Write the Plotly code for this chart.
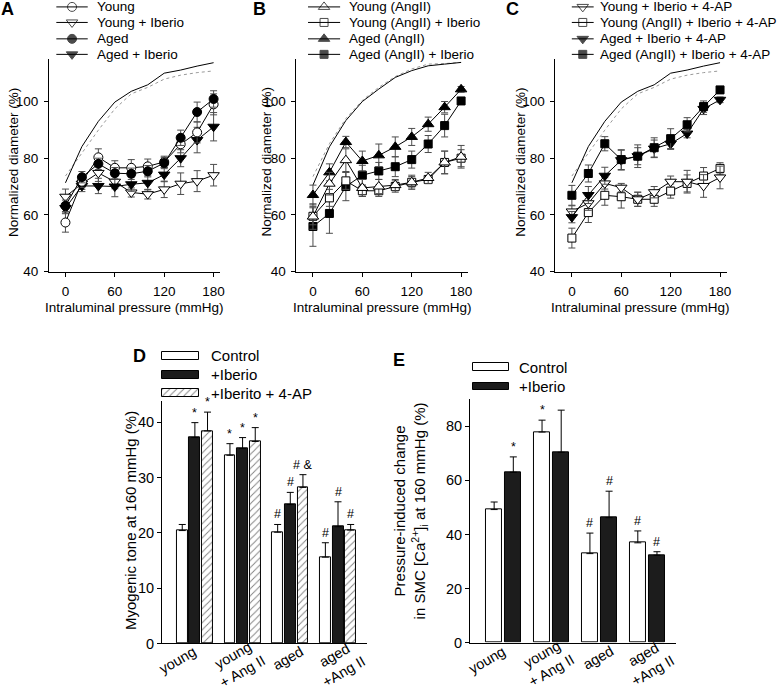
import plotly.graph_objects as go

W, H = 781, 694
FONT = "Liberation Sans, Arial, sans-serif"

# ---------------- data ----------------
pressure = [0, 20, 40, 60, 80, 100, 120, 140, 160, 180]

# Panel A
passive_solid_A = [71.3, 84.1, 93.0, 99.8, 103.6, 105.9, 110.0, 111.1, 112.5, 113.7]
passive_dot_A = [73.7, 81.8, 89.9, 97.4, 102.7, 105.0, 107.9, 109.3, 110.2, 110.8]
young = [57.3, 71.7, 80.3, 76.6, 76.6, 77.1, 78.7, 84.9, 89.1, 99.0]
young_err = [3.4, 2.0, 3.0, 2.5, 2.9, 2.6, 2.0, 3.0, 3.7, 3.7]
young_ib = [66.4, 71.0, 74.8, 71.7, 67.9, 67.3, 69.0, 71.0, 71.9, 74.0]
young_ib_err = [2.7, 2.0, 3.0, 2.5, 1.6, 1.7, 2.9, 3.8, 3.7, 3.8]
aged = [63.2, 73.3, 78.0, 74.7, 74.5, 75.4, 78.3, 87.2, 96.3, 100.9]
aged_err = [2.0, 2.0, 2.0, 2.0, 2.0, 2.0, 2.0, 2.7, 3.5, 2.9]
aged_ib = [62.4, 70.2, 70.2, 70.0, 70.8, 71.3, 74.2, 80.0, 86.4, 91.1]
aged_ib_err = [2.0, 2.0, 2.7, 3.6, 2.5, 2.5, 2.5, 3.0, 4.5, 5.0]

# Panel B
passive_solid_B = [70.5, 84.0, 93.3, 100.0, 104.4, 108.5, 110.9, 112.6, 113.2, 113.8]
passive_dot_B = [73.5, 85.1, 94.0, 100.4, 105.0, 108.8, 111.5, 113.2, 113.4, 113.8]
young_ang = [59.4, 71.0, 79.3, 69.5, 70.0, 70.5, 71.5, 73.0, 78.5, 80.5]
young_ang_err = [4.5, 4.0, 4.0, 3.0, 2.5, 2.0, 2.5, 2.0, 4.0, 4.0]
young_ang_ib = [59.5, 66.0, 72.0, 68.5, 68.5, 70.0, 71.5, 72.5, 78.5, 80.0]
young_ang_ib_err = [3.0, 3.0, 3.0, 2.0, 2.0, 2.0, 2.0, 1.0, 4.0, 3.0]
aged_ang = [67.0, 75.0, 85.7, 79.0, 81.0, 84.0, 87.5, 92.0, 98.0, 104.3]
aged_ang_err = [3.5, 3.0, 2.0, 3.5, 4.0, 3.5, 3.0, 2.5, 2.0, 1.0]
aged_ang_ib = [55.9, 60.5, 70.0, 74.0, 75.5, 77.0, 79.5, 85.0, 91.5, 100.2]
aged_ang_ib_err = [7.0, 7.0, 5.0, 3.5, 3.0, 3.5, 3.0, 3.0, 4.0, 1.0]

# Panel C
passive_solid_C = [71.3, 84.1, 93.0, 99.8, 103.6, 105.9, 110.0, 111.1, 112.5, 113.7]
passive_dot_C = [73.7, 81.8, 89.9, 97.4, 102.7, 105.0, 107.9, 109.3, 110.2, 110.8]
young_ib_4ap = [61.2, 64.1, 71.1, 69.6, 65.5, 68.0, 71.7, 71.7, 70.2, 73.2]
young_ib_4ap_err = [2.0, 2.5, 2.0, 1.5, 2.5, 2.0, 2.0, 4.0, 4.0, 4.0]
young_ang_ib_4ap = [51.8, 60.8, 66.9, 66.4, 65.5, 65.5, 68.4, 71.1, 73.7, 76.4]
young_ang_ib_4ap_err = [3.5, 3.5, 3.5, 4.0, 2.5, 2.5, 2.5, 3.0, 3.0, 2.0]
aged_ib_4ap = [59.2, 67.0, 73.8, 79.3, 80.7, 83.4, 85.1, 88.7, 97.4, 100.6]
aged_ib_4ap_err = [2.0, 3.0, 3.0, 3.5, 3.0, 3.0, 2.0, 1.5, 2.0, 1.0]
aged_ang_ib_4ap = [66.9, 74.6, 85.1, 79.5, 80.7, 83.7, 86.9, 91.8, 98.2, 104.1]
aged_ang_ib_4ap_err = [3.5, 3.0, 2.5, 3.5, 4.0, 3.5, 3.5, 2.5, 2.0, 1.0]

# Panel D
groups = ["young", "young<br>+ Ang II", "aged", "aged<br>+Ang II"]
tone_ctrl = [20.4, 34.0, 20.1, 15.6]
tone_ctrl_err = [1.1, 2.1, 1.4, 2.6]
tone_ib = [37.2, 35.2, 25.1, 21.1]
tone_ib_err = [2.7, 2.0, 2.2, 4.5]
tone_4ap = [38.4, 36.5, 28.2, 20.5]
tone_4ap_err = [3.4, 2.5, 2.3, 1.0]
tone_ctrl_sig = ["", "*", "#", "#"]
tone_ib_sig = ["*", "*", "#", "#"]
tone_4ap_sig = ["*", "*", "# &", "#"]

# Panel E
ca_ctrl = [49.2, 77.9, 32.9, 36.9]
ca_ctrl_err = [2.8, 4.4, 7.6, 4.4]
ca_ib = [63.0, 70.4, 46.2, 32.3]
ca_ib_err = [5.7, 15.6, 9.8, 1.3]
ca_ctrl_sig = ["", "*", "#", "#"]
ca_ib_sig = ["*", "", "#", "#"]

# ---------------- helpers ----------------
def dx(l, r):
    return [l / W, r / W]

def dy(t, b):
    return [1 - b / H, 1 - t / H]

fig = go.Figure()

ERRC = "#4d4d4d"

def series(xa, ya, yv, err, symbol, fill, size):
    fig.add_trace(go.Scatter(
        x=pressure, y=yv, xaxis=xa, yaxis=ya, mode="lines+markers",
        line=dict(color="black", width=1),
        marker=dict(symbol=symbol, size=size, color=fill,
                    line=dict(color="black", width=1)),
        error_y=dict(type="data", array=err, color=ERRC, thickness=1, width=3.5),
        showlegend=False, hoverinfo="skip"))

def passive(xa, ya, solid, dot):
    fig.add_trace(go.Scatter(x=pressure, y=dot, xaxis=xa, yaxis=ya, mode="lines",
                             line=dict(color="#999999", width=1, dash="dot"),
                             showlegend=False, hoverinfo="skip"))
    fig.add_trace(go.Scatter(x=pressure, y=solid, xaxis=xa, yaxis=ya, mode="lines",
                             line=dict(color="black", width=1),
                             showlegend=False, hoverinfo="skip"))

# Panel A
passive("x", "y", passive_solid_A, passive_dot_A)
series("x", "y", young_ib, young_ib_err, "triangle-down", "white", 10)
series("x", "y", aged_ib, aged_ib_err, "triangle-down", "black", 10)
series("x", "y", young, young_err, "circle", "white", 9)
series("x", "y", aged, aged_err, "circle", "black", 9)

# Panel B
passive("x2", "y2", passive_solid_B, passive_dot_B)
series("x2", "y2", aged_ang_ib, aged_ang_ib_err, "square", "black", 8)
series("x2", "y2", aged_ang, aged_ang_err, "triangle-up", "black", 10)
series("x2", "y2", young_ang_ib, young_ang_ib_err, "square", "white", 8)
series("x2", "y2", young_ang, young_ang_err, "triangle-up", "white", 10)

# Panel C
passive("x3", "y3", passive_solid_C, passive_dot_C)
series("x3", "y3", young_ang_ib_4ap, young_ang_ib_4ap_err, "square", "white", 8)
series("x3", "y3", young_ib_4ap, young_ib_4ap_err, "triangle-down", "white", 10)
series("x3", "y3", aged_ib_4ap, aged_ib_4ap_err, "triangle-down", "black", 10)
series("x3", "y3", aged_ang_ib_4ap, aged_ang_ib_4ap_err, "square", "black", 8)

annotations = []

def bars(xa, ya, vals, err, offset, width, fill, pattern, sig):
    xs = [i + offset for i in range(len(vals))]
    fig.add_trace(go.Bar(
        x=xs, y=vals, width=[width] * len(vals), xaxis=xa, yaxis=ya,
        marker=dict(color=fill, line=dict(color="black", width=1), pattern=pattern),
        error_y=dict(type="data", symmetric=False, array=err, arrayminus=[0] * len(vals),
                     color="black", thickness=1, width=3.5),
        showlegend=False, hoverinfo="skip"))
    for xv, v, e, s in zip(xs, vals, err, sig):
        if s:
            annotations.append(dict(x=xv, y=v + e, xref=xa, yref=ya, text=s,
                                    showarrow=False, yanchor="bottom", yshift=1,
                                    font=dict(family=FONT, size=12.5, color="black")))

hatch = dict(shape="/", fgcolor="black", bgcolor="white", size=5, solidity=0.18)
bars("x4", "y4", tone_ctrl, tone_ctrl_err, -0.265, 0.229, "white", None, tone_ctrl_sig)
bars("x4", "y4", tone_ib, tone_ib_err, 0.0, 0.229, "#1c1c1c", None, tone_ib_sig)
bars("x4", "y4", tone_4ap, tone_4ap_err, 0.265, 0.229, "white", hatch, tone_4ap_sig)

bars("x5", "y5", ca_ctrl, ca_ctrl_err, -0.2, 0.335, "white", None, ca_ctrl_sig)
bars("x5", "y5", ca_ib, ca_ib_err, 0.2, 0.335, "#1c1c1c", None, ca_ib_sig)

# rotated category labels for D and E (pixel shifts of each label's centre)
label_shift = [(-17, -17), (-5, -20), (-2, -15), (1, -20)]
for xa, ya in [("x4", "y4"), ("x5", "y5")]:
    for i, g in enumerate(groups):
        sx, sy = label_shift[i]
        annotations.append(dict(x=i, y=0, xref=xa, yref=ya, text=g, showarrow=False,
                                textangle=-30, align="center", xanchor="center", yanchor="middle",
                                xshift=sx, yshift=sy,
                                font=dict(family=FONT, size=14.5, color="black")))

# ---------------- legends (overlay pixel axis x6/y6) ----------------
shapes = []
leg_rows = [7, 22.7, 39.3, 55]
legends = [
    (56.7, 88.3, 95.5, [("Young", "circle", "white", 9), ("Young + Iberio", "triangle-down", "white", 10),
                        ("Aged", "circle", "black", 9), ("Aged + Iberio", "triangle-down", "black", 10)]),
    (310, 342.3, 349, [("Young (AngII)", "triangle-up", "white", 10), ("Young (AngII) + Iberio", "square", "white", 8),
                       ("Aged (AngII)", "triangle-up", "black", 10), ("Aged (AngII) + Iberio", "square", "black", 8)]),
    (575.5, 597.5, 602, [("Young + Iberio + 4-AP", "triangle-down", "white", 10),
                         ("Young (AngII) + Iberio + 4-AP", "square", "white", 8),
                         ("Aged + Iberio + 4-AP", "triangle-down", "black", 10),
                         ("Aged (AngII) + Iberio + 4-AP", "square", "black", 8)]),
]
mx, my, msym, mcol, msz = [], [], [], [], []
for x0, x1, tx, items in legends:
    for yy, (label, sym, col, sz) in zip(leg_rows, items):
        shapes.append(dict(type="line", xref="x6", yref="y6", x0=x0, x1=x1, y0=yy, y1=yy,
                           line=dict(color="black", width=1)))
        mx.append((x0 + x1) / 2); my.append(yy); msym.append(sym); mcol.append(col); msz.append(sz)
        annotations.append(dict(x=tx, y=yy, xref="x6", yref="y6", text=label, showarrow=False,
                                xanchor="left", yanchor="middle",
                                font=dict(family=FONT, size=13.5, color="black")))
fig.add_trace(go.Scatter(x=mx, y=my, xaxis="x6", yaxis="y6", mode="markers",
                         marker=dict(symbol=msym, color=mcol, size=msz,
                                     line=dict(color="black", width=1)),
                         showlegend=False, hoverinfo="skip"))

# bar legends
bar_leg = [
    (163, 200, 210, [(360, "Control", "white", None), (379, "+Iberio", "#1c1c1c", None),
                     (398, "+Iberito + 4-AP", "white", hatch)]),
    (476, 512, 520, [(371.7, "Control", "white", None), (391, "+Iberio", "#1c1c1c", None)]),
]
for x0, x1, tx, items in bar_leg:
    for yy, label, col, pat in items:
        fig.add_trace(go.Bar(x=[(x0 + x1) / 2], y=[-8], base=[yy + 4], width=[x1 - x0],
                             xaxis="x6", yaxis="y6",
                             marker=dict(color=col, line=dict(color="black", width=1), pattern=pat),
                             showlegend=False, hoverinfo="skip"))
        annotations.append(dict(x=tx, y=yy, xref="x6", yref="y6", text=label, showarrow=False,
                                xanchor="left", yanchor="middle",
                                font=dict(family=FONT, size=15, color="black")))

# axis titles & panel letters
def txt(x, y, s, size, angle=0, bold=False):
    annotations.append(dict(x=x, y=y, xref="x6", yref="y6", text=("<b>%s</b>" % s) if bold else s,
                            showarrow=False, textangle=angle, xanchor="center", yanchor="middle",
                            font=dict(family=FONT, size=size, color="black")))

for cx, ty in [(135.5, 13), (384.5, 268), (645, 523)]:
    txt(cx, 311, "Intraluminal pressure (mmHg)", 13.5)
    txt(ty, 164, "Normalized diameter (%)", 13.5, -90)
txt(8, 9, "A", 18, bold=True)
txt(261, 9, "B", 18, bold=True)
txt(516, 9, "C", 18, bold=True)
txt(140, 360, "D", 18, bold=True)
txt(402, 364, "E", 18, bold=True)
txt(132, 527, "Myogenic tone at 160 mmHg (%)", 15, -90)
txt(413, 517, "Pressure-induced change<br>in SMC [Ca<sup>2+</sup>]<sub>i</sub> at 160 mmHg (%)", 15, -90)

# ---------------- axes ----------------
base_ax = dict(showline=True, linecolor="black", linewidth=1, ticks="outside", ticklen=4,
               tickcolor="black", tickwidth=1, showgrid=False, zeroline=False,
               tickfont=dict(family=FONT, size=13.5, color="black"), fixedrange=True)

layout = dict(width=W, height=H, margin=dict(l=0, r=0, t=0, b=0),
              paper_bgcolor="white", plot_bgcolor="rgba(0,0,0,0)",
              showlegend=False, barmode="overlay", bargap=0)

xdoms = [(49.3, 221.6), (298.4, 470.7), (559, 731.3)]
for i, (l, r) in enumerate(xdoms, start=1):
    sx = "" if i == 1 else str(i)
    layout["xaxis" + sx] = dict(base_ax, domain=dx(l, r), range=[-20, 188], anchor="y" + sx,
                                tickvals=[0, 60, 120, 180], ticklabelstandoff=3)
    layout["yaxis" + sx] = dict(base_ax, domain=dy(59.7, 274.7), range=[40, 115], anchor="x" + sx,
                                tickvals=[40, 60, 80, 100], ticklabelstandoff=3)

cat_ax = dict(base_ax, ticks="", tickvals=[0, 1, 2, 3], showticklabels=False)
layout["xaxis4"] = dict(cat_ax, domain=dx(163, 369), range=[-0.69, 3.6], anchor="y4")
layout["yaxis4"] = dict(base_ax, domain=dy(406, 651), range=[0, 43.75], anchor="x4",
                        tickvals=[0, 10, 20, 30, 40], tickfont=dict(family=FONT, size=14.5, color="black"))
layout["xaxis5"] = dict(cat_ax, domain=dx(473, 680), range=[-0.705, 3.59], anchor="y5")
layout["yaxis5"] = dict(base_ax, domain=dy(404, 650), range=[0, 90], anchor="x5",
                        tickvals=[0, 20, 40, 60, 80], tickfont=dict(family=FONT, size=14.5, color="black"))
layout["xaxis6"] = dict(domain=[0, 1], range=[0, W], visible=False, anchor="y6", fixedrange=True)
layout["yaxis6"] = dict(domain=[0, 1], range=[H, 0], visible=False, anchor="x6", fixedrange=True)

layout["annotations"] = annotations
layout["shapes"] = shapes
fig.update_layout(**layout)

fig.write_html("out.html", config={"displayModeBar": False},
               post_script="document.body.style.margin='0px';document.body.style.overflow='hidden';")
